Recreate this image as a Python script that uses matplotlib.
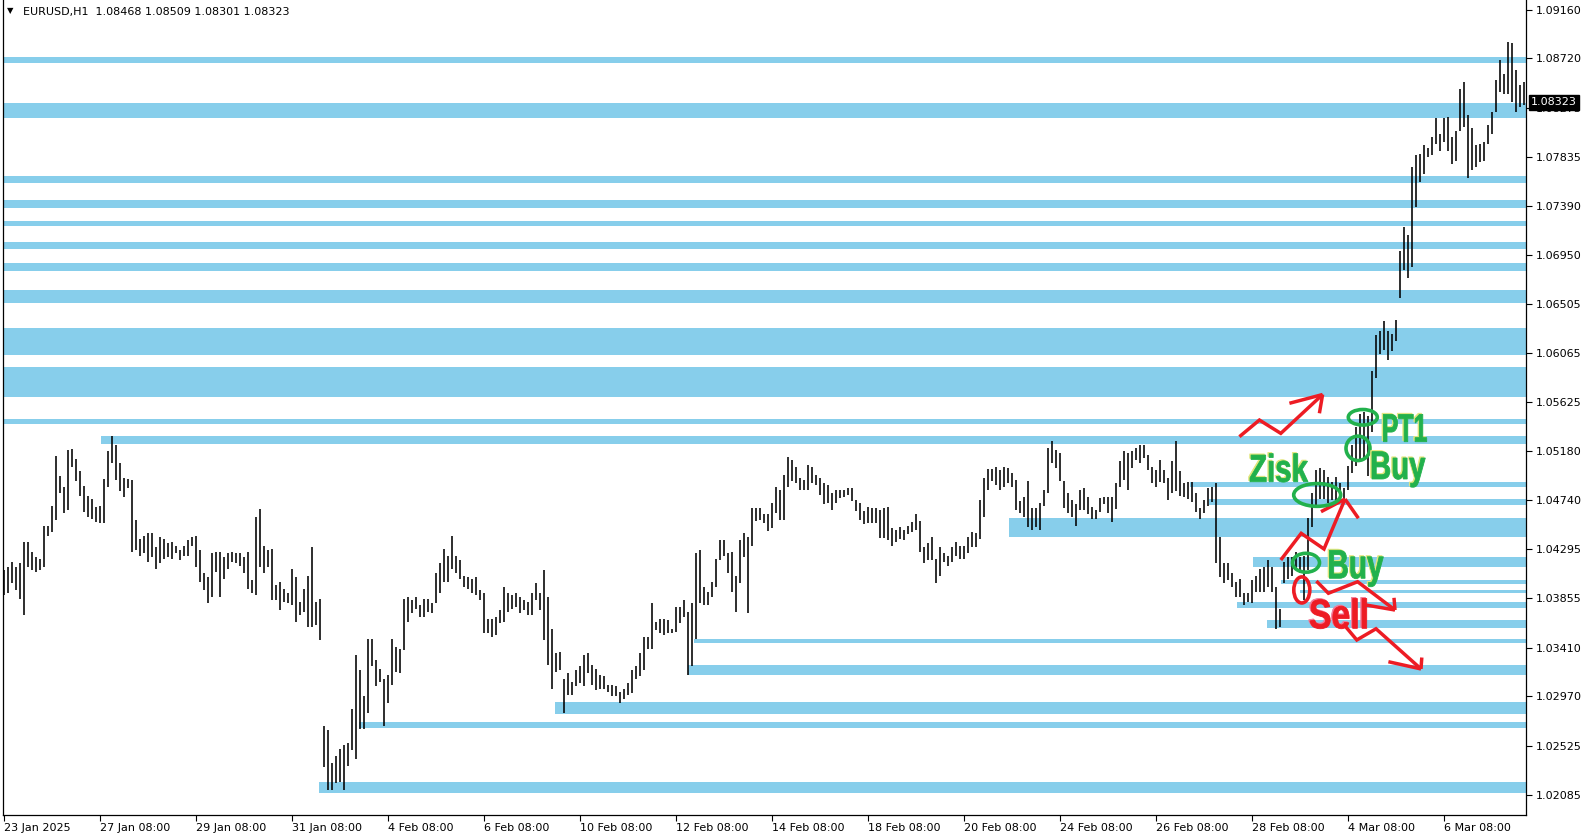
import numpy as np
import matplotlib
matplotlib.use("Agg")
import matplotlib.pyplot as plt
from matplotlib.patches import Ellipse, PathPatch, Rectangle
from matplotlib.textpath import TextPath
from matplotlib.font_manager import FontProperties
from matplotlib.transforms import Affine2D, ScaledTranslation

# -----------------------------
# Data (EURUSD H1, two hourly bars per entry, pips above 1.02000)
# -----------------------------
BASE = 1.02000

bar_high_pips = [
    211, 214, 218, 214, 217, 236, 236, 227, 223, 221,
    251, 251, 269, 314, 296, 286, 319, 320, 311, 300,
    287, 278, 275, 268, 269, 293, 318, 332, 324, 307,
    294, 293, 292, 256, 239, 242, 244, 244, 232, 241,
    239, 235, 236, 233, 229, 233, 238, 241, 242, 229,
    208, 205, 226, 227, 227, 223, 226, 227, 226, 226,
    223, 227, 202, 259, 266, 233, 229, 230, 197, 200,
    194, 190, 212, 205, 182, 194, 206, 232, 182, 185,
    70, 67, 37, 43, 50, 53, 55, 86, 134, 121,
    97, 149, 149, 130, 122, 113, 116, 149, 142, 140,
    185, 187, 184, 187, 179, 185, 185, 181, 208, 217,
    230, 224, 242, 224, 220, 206, 205, 203, 205, 193,
    190, 167, 167, 169, 175, 196, 190, 188, 190, 187,
    184, 182, 190, 199, 190, 211, 187, 158, 136, 137,
    113, 118, 110, 121, 124, 134, 136, 125, 122, 116,
    115, 107, 107, 106, 101, 104, 109, 121, 124,
    136, 151, 151, 181, 164, 167, 167, 166, 158, 178,
    178, 184, 173, 181, 226, 229, 196, 191, 200, 221,
    238, 238, 226, 227, 206, 238, 244, 241, 267, 267,
    267, 261, 261, 271, 286, 283, 297, 313, 310, 304,
    294, 292, 306, 304, 297, 294, 289, 288, 280, 283,
    283, 283, 285, 285, 274, 271, 264, 268, 267, 267,
    265, 267, 268, 249, 247, 250, 247, 251, 254, 261,
    255, 232, 235, 241, 221, 232, 226, 224, 232, 236,
    233, 233, 241, 245, 244, 274, 294, 302, 302, 304,
    301, 304, 303, 298, 292, 273, 277, 291, 267, 267,
    271, 283, 321, 327, 319, 316, 291, 280, 274, 270,
    283, 285, 277, 268, 265, 276, 277, 277, 277, 289,
    309, 318, 316, 318, 321, 324, 324, 315, 304, 301,
    310, 301, 294, 309, 327, 300, 289, 290, 290, 280,
    267, 274, 285, 286, 289, 241, 217, 217, 208, 200,
    203, 190, 190,
    202, 206, 212, 214, 220, 214, 196, 176, 218, 223,
    223, 227, 223, 224, 258, 280, 301, 303, 301, 295,
    290, 295, 289, 285, 305, 324, 340, 352, 353, 350,
    390, 423, 426, 435, 426, 424, 436, 498, 520, 513,
    574, 585, 586, 594, 591, 601, 618, 604, 618, 619,
    601, 607, 644, 651, 621, 609, 594, 595, 597, 612,
    624, 653, 671, 658, 687, 686, 662, 648, 651,
]

bar_low_pips = [
    188, 190, 199, 193, 185, 170, 214, 211, 209, 211,
    214, 242, 245, 256, 280, 262, 265, 304, 291, 278,
    263, 259, 257, 254, 253, 253, 286, 307, 292, 282,
    277, 285, 227, 229, 224, 226, 218, 223, 212, 217,
    221, 223, 221, 226, 220, 224, 224, 233, 214, 200,
    193, 181, 187, 209, 187, 203, 212, 218, 217, 215,
    208, 194, 190, 188, 214, 208, 214, 184, 184, 175,
    182, 181, 179, 164, 170, 173, 160, 160, 161, 148,
    33, 13, 13, 19, 20, 13, 34, 49, 41, 68,
    68, 82, 124, 106, 110, 70, 91, 107, 119, 118,
    139, 164, 172, 176, 169, 169, 173, 172, 181, 190,
    200, 200, 212, 208, 203, 196, 194, 190, 188, 184,
    154, 154, 151, 152, 163, 164, 173, 176, 178, 172,
    175, 170, 170, 184, 175, 148, 125, 104, 119, 121,
    82, 98, 98, 106, 109, 106, 118, 107, 103, 104,
    104, 101, 97, 97, 91, 95, 98, 100, 113,
    115, 121, 140, 140, 157, 154, 152, 154, 154, 155,
    163, 169, 116, 124, 149, 181, 179, 179, 187, 196,
    220, 224, 208, 191, 173, 199, 223, 172, 233, 255,
    256, 253, 246, 249, 262, 256, 256, 286, 291, 289,
    283, 283, 283, 289, 288, 279, 270, 271, 265, 271,
    276, 277, 279, 273, 264, 256, 252, 253, 253, 253,
    240, 240, 238, 233, 236, 239, 238, 243, 245, 247,
    227, 217, 220, 220, 199, 206, 218, 215, 218, 224,
    221, 221, 226, 232, 232, 239, 259, 283, 291, 288,
    283, 286, 289, 286, 265, 262, 259, 250, 247, 250,
    247, 269, 280, 307, 303, 291, 267, 262, 259, 251,
    265, 265, 261, 257, 257, 263, 270, 262, 254, 266,
    286, 292, 283, 303, 310, 307, 312, 301, 289, 286,
    290, 289, 274, 280, 282, 278, 277, 275, 272, 263,
    257, 262, 269, 272, 217, 205, 199, 202, 196, 187,
    187, 179, 182,
    181, 191, 191, 191, 196, 191, 158, 160, 199, 203,
    206, 211, 208, 184, 211, 250, 268, 275, 275, 271,
    274, 274, 275, 271, 283, 298, 305, 310, 312, 296,
    335, 384, 406, 409, 400, 408, 417, 456, 481, 474,
    484, 538, 561, 568, 583, 585, 595, 589, 597, 589,
    577, 580, 607, 610, 564, 571, 574, 579, 580, 595,
    604, 624, 642, 640, 640, 633, 624, 628, 630,
]

title_text = "EURUSD,H1  1.08468 1.08509 1.08301 1.08323"
last_price = 1.08323

# support / resistance zones (price low, price high, first hour index; None = whole chart)
zone_lo = [1.08676, 1.08186, 1.07595, 1.07374, 1.07212, 1.07005, 1.06807, 1.06519,
           1.06047, 1.05671, 1.05425, 1.05245, 1.04860, 1.04696, 1.04403, 1.04140,
           1.03983, 1.03900, 1.03765, 1.03584, 1.03454, 1.03163, 1.02812, 1.02686,
           1.02100]
zone_hi = [1.08730, 1.08316, 1.07660, 1.07444, 1.07255, 1.07063, 1.06874, 1.06633,
           1.06288, 1.05936, 1.05468, 1.05317, 1.04905, 1.04749, 1.04578, 1.04224,
           1.04020, 1.03930, 1.03824, 1.03660, 1.03488, 1.03253, 1.02923, 1.02743,
           1.02199]
zone_start = [None, None, None, None, None, None, None, None, None, None, None,
              48.5, 593, 602.5, 502.5, 624.5, 638.5, 648, 616.5, 631.5, 345, 342,
              275.5, 177.5, 157.5]

price_ticks = [1.09160, 1.08720, 1.08275, 1.07835, 1.07390, 1.06950, 1.06505, 1.06065,
               1.05625, 1.05180, 1.04740, 1.04295, 1.03855, 1.03410, 1.02970, 1.02525,
               1.02085]
time_tick_hours = [0, 48, 96, 144, 192, 240, 288, 336, 384, 432, 480, 528, 576, 624, 672, 720]
time_tick_labels = ["23 Jan 2025", "27 Jan 08:00", "29 Jan 08:00", "31 Jan 08:00",
                    "4 Feb 08:00", "6 Feb 08:00", "10 Feb 08:00", "12 Feb 08:00",
                    "14 Feb 08:00", "18 Feb 08:00", "20 Feb 08:00", "24 Feb 08:00",
                    "26 Feb 08:00", "28 Feb 08:00", "4 Mar 08:00", "6 Mar 08:00"]

# hand drawn markings (hour index, price)
arrow_paths = [
    [(617.9, 1.05311), (627.9, 1.05461), (638.6, 1.05341), (659.5, 1.05691)],
    [(638.6, 1.04200), (648.8, 1.04440), (660.2, 1.04299), (670.7, 1.04749)],
    [(656.4, 1.04010), (662.4, 1.03900), (677.0, 1.04004), (695.7, 1.03749)],
    [(669.9, 1.03623), (676.6, 1.03479), (686.2, 1.03580), (708.7, 1.03218)],
]
arrow_barbs = [
    [(642.9, 1.05612), (657.9, 1.05522)],
    [(658.7, 1.04635), (677.4, 1.04576)],
    [(681.2, 1.03794), (695.2, 1.03859)],
    [(692.4, 1.03283), (709.1, 1.03321)],
]
# (centre hour, centre price, width in hours, height in price, colour)
ring_marks = [
    (679.6, 1.05486, 14.5, 0.00140, "green"),
    (677.2, 1.05206, 12.0, 0.00220, "green"),
    (656.8, 1.04786, 23.5, 0.00205, "green"),
    (651.2, 1.04175, 13.5, 0.00170, "green"),
    (649.1, 1.03930, 8.0, 0.00235, "red"),
]
# (word, left hour, baseline price, width px, cap height px, colour)
word_marks = [
    ("Zisk", 623.2, 1.04905, 58.0, 26.7, "green"),
    ("Buy", 684.2, 1.04930, 53.3, 27.3, "green"),
    ("PT1", 689.9, 1.05266, 43.3, 27.3, "green"),
    ("Buy", 662.9, 1.04035, 54.0, 28.0, "green"),
    ("Sell", 653.2, 1.03584, 56.7, 28.3, "red"),
]

PAINT = {"green": ("#22B14C", "#e2e67a"), "red": ("#ED1C24", "#f27a98")}
ZONE_COLOR = "#87CEEB"

# -----------------------------
# Figure
# -----------------------------
W, H, DPI = 1590, 838, 100
fig = plt.figure(figsize=(W / DPI, H / DPI), dpi=DPI)
fig.patch.set_facecolor("white")
ax = fig.add_axes([3 / W, 23 / H, 1523 / W, 815 / H])

x_left, x_right = -0.3, 761.2
y_bottom, y_top = 1.019017, 1.092465

# zones
for lo, hi, st in zip(zone_lo, zone_hi, zone_start):
    x0 = x_left if st is None else st
    ax.add_patch(Rectangle((x0, lo), x_right - x0, hi - lo,
                           facecolor=ZONE_COLOR, edgecolor="none", zorder=1))

# bars
highs = BASE + np.array(bar_high_pips) / 10000.0
lows = BASE + np.array(bar_low_pips) / 10000.0
hours = np.arange(len(highs)) * 2.0
ax.vlines(hours, lows, highs, colors="black", linewidth=1.15, zorder=2)

# red arrows
for path, barbs in zip(arrow_paths, arrow_barbs):
    px, py = zip(*path)
    ax.plot(px, py, color=PAINT["red"][0], lw=2.5, solid_joinstyle="miter",
            solid_capstyle="butt", zorder=6)
    tip = path[-1]
    for b in barbs:
        ax.plot([b[0], tip[0]], [b[1], tip[1]], color=PAINT["red"][0], lw=2.5,
                solid_capstyle="butt", zorder=6)

# rings
for cx, cy, w, h, col in ring_marks:
    ax.add_patch(Ellipse((cx, cy), w, h, fill=False, edgecolor=PAINT[col][0],
                         lw=2.6, zorder=7))

# painted words
fp = FontProperties(family="Liberation Sans", weight="bold")
cap_h = TextPath((0, 0), "H", size=1, prop=fp).get_extents().height


def paint_word(word, x, y, w_px, h_px, col):
    tp = TextPath((0, 0), word, size=1, prop=fp)
    ext = tp.get_extents()
    base = Affine2D().translate(-ext.x0, 0).scale(w_px / ext.width, h_px / cap_h)
    fill, halo = PAINT[col]
    for dx, dy, c, z in ((-1.3, 1.1, halo, 7), (0, 0, fill, 8)):
        tr = base + Affine2D().translate(dx, dy) + ScaledTranslation(x, y, ax.transData)
        ax.add_patch(PathPatch(tp, transform=tr, facecolor=c, edgecolor=c,
                               lw=0.6, zorder=z))


for word, x, y, w_px, h_px, col in word_marks:
    paint_word(word, x, y, w_px, h_px, col)

# axes
ax.set_xlim(x_left, x_right)
ax.set_ylim(y_bottom, y_top)
ax.yaxis.tick_right()
ax.set_yticks(price_ticks)
ax.set_yticklabels([f"{p:.5f}" for p in price_ticks])
ax.set_xticks(time_tick_hours)
ax.set_xticklabels(time_tick_labels, ha="left")
ax.tick_params(axis="y", length=4, width=0.8, pad=3, labelsize=8, colors="black")
ax.tick_params(axis="x", length=4, width=0.8, pad=2, labelsize=8, colors="black")
for side in ("left", "right", "bottom"):
    ax.spines[side].set_linewidth(0.9)
ax.spines["top"].set_visible(False)

# current price box (drawn over the 1.08275 tick label, as in the terminal)
ax.annotate(f"{last_price:.5f}", xy=(1, last_price), xycoords=("axes fraction", "data"),
            xytext=(5, 0), textcoords="offset pixels", ha="left", va="center",
            color="white", fontsize=8,
            bbox=dict(boxstyle="square,pad=0.2", facecolor="black", edgecolor="black"),
            zorder=10, annotation_clip=False)

# title
fig.text(7 / W, 1 - 11 / H, "\u25BC", fontsize=6, va="center", ha="left")
fig.text(22.7 / W, 1 - 12.5 / H, title_text, fontsize=8, va="center", ha="left")

fig.savefig("out.png", dpi=DPI)
